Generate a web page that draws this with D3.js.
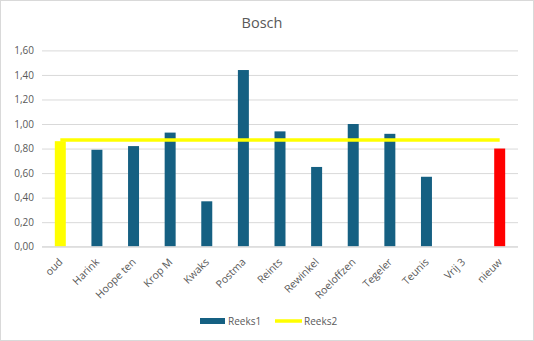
<!DOCTYPE html>
<html><head><meta charset="utf-8">
<script src="https://cdn.jsdelivr.net/npm/d3@7/dist/d3.min.js"></script>
<style>body{margin:0;background:#fff}svg{display:block}</style>
</head><body><svg id="c" width="534" height="341"></svg>
<script>
const categories = ["oud","Harink","Hoope ten","Krop M","Kwaks","Postma","Reints","Rewinkel","Roeloffzen","Tegeler","Teunis","Vrij 3","nieuw"];
const reeks1 = [0.86,0.79,0.82,0.93,0.37,1.44,0.94,0.65,1.00,0.92,0.57,0,0.80];
const barColors = ["#ffff00","#156082","#156082","#156082","#156082","#156082","#156082","#156082","#156082","#156082","#156082","#156082","#ff0000"];
const reeks2 = [0.87,0.87,0.87,0.87,0.87,0.87,0.87,0.87,0.87,0.87,0.87,0.87,0.87];
const yTicks = [0,0.2,0.4,0.6,0.8,1.0,1.2,1.4,1.6];
const title = "Bosch";
const seriesNames = ["Reeks1","Reeks2"];

const svg = d3.select("#c");
const font = "'Open Sans', sans-serif";
svg.append("rect").attr("x",0.5).attr("y",0.5).attr("width",533).attr("height",340)
  .attr("fill","#fff").attr("stroke","#d9d9d9");

const x = d3.scaleBand().domain(categories).range([42,518]).paddingInner(0.7).paddingOuter(0.35);
const y = d3.scaleLinear().domain([0,1.6]).range([246.7,50.4]);
const fmt = d => d3.format(".2f")(d).replace(".",",");

svg.append("text").attr("x",262).attr("y",28).attr("text-anchor","middle")
  .attr("font-family",font).attr("font-size",14.5).attr("fill","#595959").text(title);

const yAxis = svg.append("g").attr("transform","translate(42,0)")
  .call(d3.axisLeft(y).tickValues(yTicks).tickFormat(fmt).tickSize(-476).tickPadding(8));
yAxis.select(".domain").remove();
yAxis.selectAll(".tick line").attr("stroke","#d9d9d9");
yAxis.selectAll(".tick text").attr("font-family",font).attr("font-size",10).attr("fill","#595959");

svg.selectAll("rect.bar").data(reeks1).join("rect").attr("class","bar")
  .attr("x",(d,i)=>x(categories[i])).attr("width",x.bandwidth())
  .attr("y",d=>y(d)).attr("height",d=>y(0)-y(d))
  .attr("fill",(d,i)=>barColors[i]);

svg.append("line").attr("x1",42).attr("x2",518).attr("y1",y(0)).attr("y2",y(0)).attr("stroke","#d9d9d9");

const xAxis = svg.append("g").attr("transform",`translate(0,${y(0)})`)
  .call(d3.axisBottom(x).tickSize(0).tickPadding(0));
xAxis.select(".domain").remove();
xAxis.selectAll(".tick text").attr("font-family",font).attr("font-size",10.5).attr("fill","#595959")
  .attr("text-anchor","end").attr("dy",0).attr("transform","translate(3,16) rotate(-45)");

const line = d3.line().x((d,i)=>x(categories[i])+x.bandwidth()/2).y(d=>y(d));
svg.append("path").datum(reeks2).attr("d",line).attr("fill","none").attr("stroke","#ffff00").attr("stroke-width",3.5);

const lg = svg.append("g");
lg.append("rect").attr("x",200).attr("y",318).attr("width",25).attr("height",6).attr("fill","#156082");
lg.append("text").attr("x",228).attr("y",325).attr("font-family",font).attr("font-size",10).attr("fill","#595959").text(seriesNames[0]);
lg.append("line").attr("x1",275).attr("x2",302).attr("y1",321).attr("y2",321).attr("stroke","#ffff00").attr("stroke-width",3.5);
lg.append("text").attr("x",304).attr("y",325).attr("font-family",font).attr("font-size",10).attr("fill","#595959").text(seriesNames[1]);
</script></body></html>
